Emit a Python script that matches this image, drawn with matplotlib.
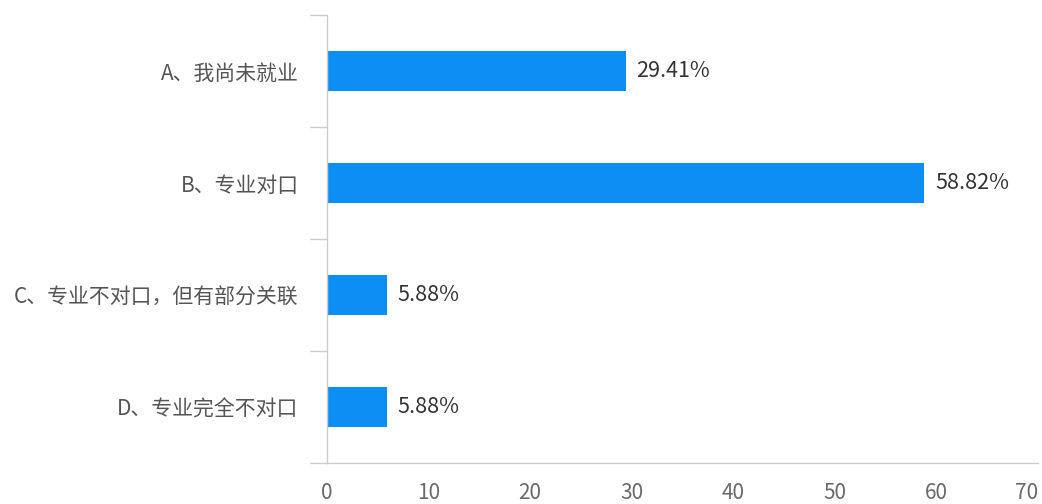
import matplotlib
matplotlib.use("Agg")
import matplotlib.pyplot as plt
from matplotlib.ticker import FixedLocator

plt.rcParams['font.family'] = ['Noto Sans CJK SC', 'DejaVu Sans']

categories = ["A、我尚未就业", "B、专业对口", "C、专业不对口，但有部分关联", "D、专业完全不对口"]
values = [29.41, 58.82, 5.88, 5.88]
value_labels = ["29.41%", "58.82%", "5.88%", "5.88%"]
xticks = [0, 10, 20, 30, 40, 50, 60, 70]

fig = plt.figure(figsize=(10.42, 5.04), dpi=100)
ax = fig.add_axes([327 / 1042, 1 - 463 / 504, (1038 - 327) / 1042, (463 - 15) / 504])

pos = list(range(len(categories)))
ax.barh(pos, values, height=0.366, color='#0d8ef5')
for p, v, lab in zip(pos, values, value_labels):
    ax.text(v + 1.05, p, lab, va='center', ha='left', fontsize=15.5, color='#333333')

ax.set_ylim(len(categories) - 0.5, -0.5)
ax.set_xlim(0, 70)
ax.set_yticks(pos)
ax.set_yticklabels(categories, fontsize=15, color='#555555')
ax.yaxis.set_minor_locator(FixedLocator([i - 0.5 for i in range(len(categories) + 1)]))
ax.tick_params(axis='y', which='major', length=0, pad=20.5)
ax.tick_params(axis='y', which='minor', length=12, color='#cccccc', width=1)
ax.set_xticks(xticks)
xl = ax.set_xticklabels([str(t) for t in xticks], fontsize=15, color='#6a6a6a')
xl[-1].set_horizontalalignment('right')
ax.tick_params(axis='x', which='major', length=0, pad=14)

for s in ['top', 'right']:
    ax.spines[s].set_visible(False)
for s in ['left', 'bottom']:
    ax.spines[s].set_color('#cccccc')
    ax.spines[s].set_linewidth(1)

fig.savefig('out.png', dpi=100)
